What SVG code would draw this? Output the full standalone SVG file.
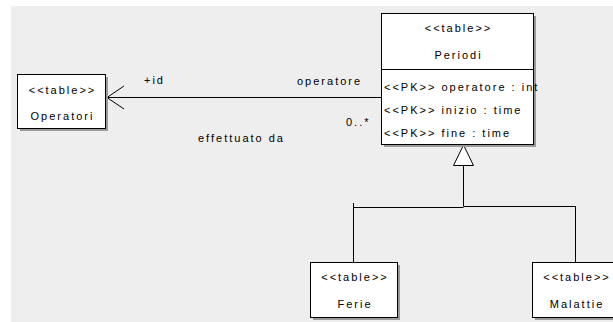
<svg xmlns="http://www.w3.org/2000/svg" width="613" height="322" viewBox="0 0 613 322">
<style>
.t{font-family:"Liberation Sans",Arial,sans-serif;font-size:11px;letter-spacing:2px;fill:#000}
.c{text-anchor:middle}
.box{fill:#fff;stroke:#000;stroke-width:1}
.sh{fill:#9a9a9a}
.ln{fill:none;stroke:#000;stroke-width:1}
</style>
<rect x="0" y="0" width="613" height="322" fill="#fff"/>
<rect x="11" y="6" width="602" height="316" fill="#eeeeee"/>
<g id="connectors">
<path class="ln" d="M106.5,97.5 H381"/>
<path class="ln" d="M124,86 L107,97.5 L124,109"/>
<path class="ln" d="M353.5,262 V203 M353.5,207.5 H463.5"/>
<path class="ln" d="M575.5,262 V206.5 H463.5 V165"/>
<polygon points="463.5,145 453.5,165.5 473.5,165.5" fill="#fff" stroke="#000" stroke-width="1"/>
<text class="t" x="144" y="84">+id</text>
<text class="t" x="297" y="85">operatore</text>
<text class="t" x="346" y="126">0..*</text>
<text class="t" x="198" y="142">effettuato da</text>
</g>
<g id="Operatori">
<rect class="sh" x="20" y="77" width="88" height="54"/>
<rect class="box" x="17.5" y="74.5" width="88" height="54"/>
<text class="t c" x="62.5" y="94">&lt;&lt;table&gt;&gt;</text>
<text class="t c" x="62.5" y="120">Operatori</text>
</g>
<g id="Periodi">
<rect class="sh" x="384" y="16" width="152" height="131"/>
<rect class="box" x="381.5" y="13.5" width="152" height="131"/>
<line class="ln" x1="381.5" y1="69.5" x2="533.5" y2="69.5"/>
<text class="t c" x="458.5" y="32">&lt;&lt;table&gt;&gt;</text>
<text class="t c" x="458.5" y="59">Periodi</text>
<text class="t" x="384" y="91">&lt;&lt;PK&gt;&gt; operatore : int</text>
<text class="t" x="384" y="114">&lt;&lt;PK&gt;&gt; inizio : time</text>
<text class="t" x="384" y="137">&lt;&lt;PK&gt;&gt; fine : time</text>
</g>
<g id="Ferie">
<rect class="sh" x="313" y="265" width="87" height="55"/>
<rect class="box" x="310.5" y="262.5" width="87" height="55"/>
<text class="t c" x="355" y="281">&lt;&lt;table&gt;&gt;</text>
<text class="t c" x="355" y="308">Ferie</text>
</g>
<g id="Malattie">
<rect class="sh" x="535" y="265" width="87" height="55"/>
<rect class="box" x="532.5" y="262.5" width="87" height="55"/>
<text class="t c" x="577" y="281">&lt;&lt;table&gt;&gt;</text>
<text class="t c" x="577" y="308">Malattie</text>
</g>
</svg>
